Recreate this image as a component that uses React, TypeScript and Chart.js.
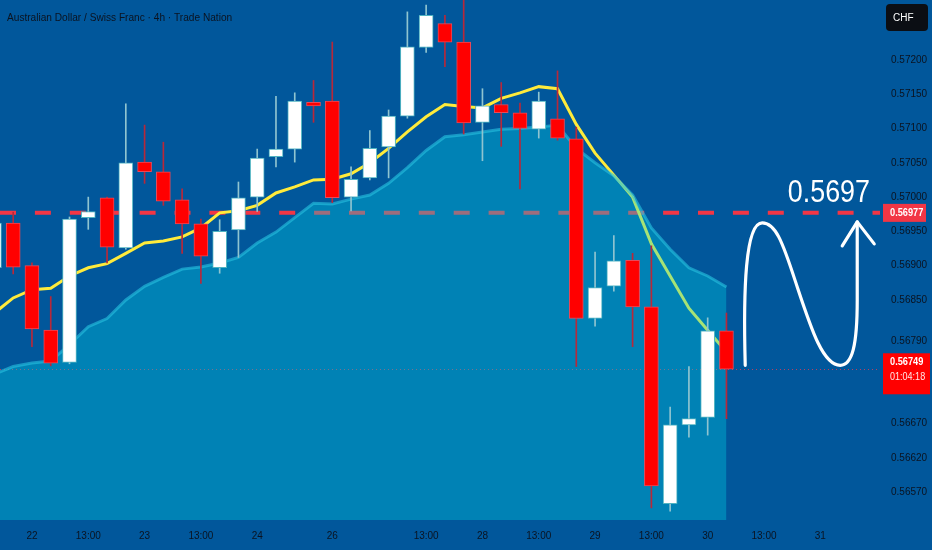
import React, { useEffect, useRef } from 'react';
import { Chart, registerables } from 'chart.js';

Chart.register(...registerables);

// ---- data ----
const candleIndex = [-1, 0, 1, 2, 3, 4, 5, 6, 7, 8, 9, 10, 11, 12, 13, 14, 15, 16, 17, 18, 19, 20, 21, 22, 23, 24, 25, 26, 27, 28, 29, 30, 31, 32, 33, 34, 35, 36, 37, 38];
const opens = [0.56897, 0.56962, 0.569, 0.56806, 0.56759, 0.5697, 0.56999, 0.56926, 0.57051, 0.57037, 0.56996, 0.56961, 0.56897, 0.56952, 0.57, 0.57059, 0.5707, 0.57138, 0.5714, 0.57, 0.57028, 0.57073, 0.57118, 0.57218, 0.57253, 0.57226, 0.57109, 0.57135, 0.57123, 0.57099, 0.57114, 0.57085, 0.56823, 0.5687, 0.56908, 0.5684, 0.56553, 0.56668, 0.56679, 0.56805];
const highs = [0.56968, 0.56978, 0.56904, 0.56855, 0.56971, 0.57, 0.57, 0.57136, 0.57105, 0.5708, 0.57012, 0.56968, 0.56967, 0.57022, 0.5707, 0.57147, 0.57152, 0.5717, 0.57226, 0.57044, 0.57097, 0.57127, 0.5727, 0.5728, 0.57265, 0.57294, 0.57158, 0.57167, 0.57137, 0.57153, 0.57184, 0.57102, 0.5692, 0.56944, 0.56918, 0.56929, 0.56694, 0.56753, 0.56824, 0.56831];
const lows = [0.5689, 0.56888, 0.56782, 0.56754, 0.56757, 0.56953, 0.56904, 0.56924, 0.5702, 0.56988, 0.56918, 0.56874, 0.56889, 0.56912, 0.56979, 0.57044, 0.57051, 0.57109, 0.56992, 0.5698, 0.57025, 0.57028, 0.57115, 0.57211, 0.5719, 0.57092, 0.57053, 0.57074, 0.57012, 0.57086, 0.57083, 0.56753, 0.56812, 0.56863, 0.56782, 0.56547, 0.56542, 0.5665, 0.56653, 0.56677];
const closes = [0.56962, 0.56898, 0.56808, 0.56758, 0.56968, 0.56979, 0.56927, 0.5705, 0.57037, 0.56994, 0.56961, 0.56914, 0.5695, 0.56999, 0.57057, 0.5707, 0.5714, 0.57133, 0.56999, 0.57026, 0.57071, 0.57118, 0.57219, 0.57265, 0.57226, 0.57108, 0.57133, 0.57123, 0.571, 0.5714, 0.57086, 0.56823, 0.56868, 0.56907, 0.5684, 0.56579, 0.56668, 0.56677, 0.56805, 0.56749];
const fastEma = [0.56831, 0.56853, 0.56865, 0.56867, 0.56885, 0.56897, 0.56903, 0.56918, 0.56933, 0.56936, 0.56942, 0.56955, 0.56977, 0.5698, 0.56988, 0.57006, 0.57015, 0.57025, 0.57026, 0.57034, 0.5705, 0.57071, 0.57095, 0.57117, 0.57135, 0.57132, 0.5713, 0.57144, 0.57152, 0.57161, 0.57158, 0.57106, 0.57064, 0.57032, 0.57, 0.56932, 0.56885, 0.56838, 0.56806, 0.56774];
const slowEma = [0.56742, 0.56753, 0.56758, 0.56761, 0.56785, 0.56811, 0.56823, 0.5685, 0.5687, 0.56883, 0.56895, 0.56898, 0.56904, 0.56912, 0.56933, 0.56949, 0.5697, 0.56991, 0.5699, 0.56997, 0.57003, 0.5702, 0.57043, 0.57068, 0.57088, 0.57091, 0.57095, 0.57099, 0.571, 0.57102, 0.57105, 0.57071, 0.5705, 0.57031, 0.57003, 0.56955, 0.56924, 0.56897, 0.56885, 0.56869];
const xTickIndex = [1, 4, 7, 10, 13, 17, 22, 25, 28, 31, 34, 37, 40, 43];
const xTickLabels = ['22', '13:00', '23', '13:00', '24', '26', '13:00', '28', '13:00', '29', '13:00', '30', '13:00', '31'];
const yTickValues = [0.572, 0.5715, 0.571, 0.5705, 0.57, 0.5695, 0.569, 0.5685, 0.5679, 0.5667, 0.5662, 0.5657];
const levelPrice = 0.56977;
const targetText = '0.5697';
const lastPrice = 0.56749;
const countdown = '01:04:18';
const currency = 'CHF';
const title = 'Australian Dollar / Swiss Franc · 4h · Trade Nation';

// ---- styles ----
const BG = '#01579b';
const TEXT = '#0b1320';
const FONT = "'Liberation Sans', Arial, sans-serif";
const X_MIN = -0.703;
const X_MAX = 46.18;
const Y_MIN = 0.565293;
const Y_MAX = 0.572873;

const isUp = (i: number) => closes[i] >= opens[i];

function drawText(ctx: CanvasRenderingContext2D, text: string, x: number, y: number, font: string, color: string, sx: number, align: CanvasTextAlign, baseline: CanvasTextBaseline) {
  ctx.save();
  ctx.font = font;
  ctx.fillStyle = color;
  ctx.textAlign = align;
  ctx.textBaseline = baseline;
  ctx.translate(x, y);
  ctx.scale(sx, 1);
  ctx.fillText(text, 0, 0);
  ctx.restore();
}

export default function App() {
  const ref = useRef<HTMLCanvasElement | null>(null);

  useEffect(() => {
    const canvas = ref.current;
    if (!canvas) return;
    document.body.style.margin = '0';

    const decor = {
      id: 'decor',
      beforeDraw(chart: any) {
        const { ctx, width, height } = chart;
        ctx.save();
        ctx.fillStyle = BG;
        ctx.fillRect(0, 0, width, height);
        ctx.restore();
      },
      beforeDatasetsDraw(chart: any) {
        const { ctx, chartArea } = chart;
        const ys = chart.scales.y;
        ctx.save();
        const ly = ys.getPixelForValue(levelPrice);
        ctx.strokeStyle = '#f23645';
        ctx.lineWidth = 4;
        ctx.setLineDash([16, 18.9]);
        ctx.beginPath();
        ctx.moveTo(chartArea.left, ly);
        ctx.lineTo(chartArea.right, ly);
        ctx.stroke();
        const py = Math.round(ys.getPixelForValue(lastPrice)) + 0.5;
        ctx.strokeStyle = 'rgba(230,60,80,0.8)';
        ctx.lineWidth = 1;
        ctx.setLineDash([1, 3]);
        ctx.beginPath();
        ctx.moveTo(chartArea.left, py);
        ctx.lineTo(chartArea.right, py);
        ctx.stroke();
        ctx.restore();
      },
      afterDatasetsDraw(chart: any) {
        const { ctx, chartArea } = chart;
        const xs = chart.scales.x;
        const ys = chart.scales.y;
        const ly = ys.getPixelForValue(levelPrice);
        const y0 = ys.getPixelForValue(lastPrice) - 4;
        const x0 = xs.getPixelForValue(39);
        const yTop = ly + 10;
        ctx.save();
        ctx.strokeStyle = '#ffffff';
        ctx.lineWidth = 3.2;
        ctx.lineCap = 'round';
        ctx.lineJoin = 'round';
        ctx.beginPath();
        ctx.moveTo(x0, y0);
        ctx.bezierCurveTo(x0 - 2, y0 - 75, x0, yTop, x0 + 17, yTop);
        ctx.bezierCurveTo(x0 + 30, yTop, x0 + 37, yTop + 18, x0 + 50, yTop + 58);
        ctx.bezierCurveTo(x0 + 65, yTop + 103, x0 + 77, y0, x0 + 95, y0);
        ctx.bezierCurveTo(x0 + 107, y0, x0 + 112, y0 - 20, x0 + 112, y0 - 65);
        ctx.lineTo(x0 + 112, yTop - 1);
        ctx.stroke();
        ctx.beginPath();
        ctx.moveTo(x0 + 97, yTop + 23);
        ctx.lineTo(x0 + 112, yTop - 1);
        ctx.lineTo(x0 + 129, yTop + 21);
        ctx.stroke();
        ctx.restore();
        drawText(ctx, targetText, chartArea.right - 10, ly - 11, '32px ' + FONT, '#ffffff', 0.84, 'right', 'alphabetic');
      },
      afterDraw(chart: any) {
        const { ctx, chartArea } = chart;
        const ys = chart.scales.y;
        const ax = chartArea.right;
        drawText(ctx, title, 7, 21, '11.5px ' + FONT, TEXT, 0.88, 'left', 'alphabetic');
        ctx.save();
        ctx.fillStyle = '#0b0e14';
        ctx.beginPath();
        (ctx as any).roundRect(ax + 6, 4, 42, 27, 4);
        ctx.fill();
        ctx.restore();
        drawText(ctx, currency, ax + 13, 18, '10px ' + FONT, '#ffffff', 1, 'left', 'middle');
        const ly = ys.getPixelForValue(levelPrice);
        ctx.save();
        ctx.fillStyle = '#f23645';
        ctx.fillRect(ax + 3, ly - 9, 43, 18);
        ctx.restore();
        drawText(ctx, levelPrice.toFixed(5), ax + 10, ly + 0.5, 'bold 10.5px ' + FONT, '#ffffff', 0.88, 'left', 'middle');
        const py = ys.getPixelForValue(lastPrice);
        ctx.save();
        ctx.fillStyle = '#ff0000';
        ctx.fillRect(ax + 3, py - 16, 47, 41);
        ctx.restore();
        drawText(ctx, lastPrice.toFixed(5), ax + 10, py - 7, 'bold 10.5px ' + FONT, '#ffffff', 0.88, 'left', 'middle');
        drawText(ctx, countdown, ax + 10, py + 8, '10.5px ' + FONT, '#ffe6e6', 0.86, 'left', 'middle');
      },
    };

    const chart = new Chart(canvas, {
      type: 'bar',
      data: {
        datasets: [
          {
            type: 'bar',
            label: 'bodies',
            data: candleIndex.map((x, i) => ({ x, y: [opens[i], closes[i]] })) as any,
            backgroundColor: candleIndex.map((_, i) => (isUp(i) ? '#ffffff' : '#ff0000')),
            borderColor: candleIndex.map((_, i) => (isUp(i) ? '#4fb3c2' : '#e84a5a')),
            borderWidth: 1,
            borderSkipped: false,
            barThickness: 14,
            grouped: false,
            order: 0,
            clip: 0,
          } as any,
          {
            type: 'bar',
            label: 'wicks',
            data: candleIndex.map((x, i) => ({ x, y: [lows[i], highs[i]] })) as any,
            backgroundColor: candleIndex.map((_, i) => (isUp(i) ? '#8fc4d0' : '#b8283a')),
            borderWidth: 0,
            barThickness: 1,
            grouped: false,
            order: 1,
            clip: 0,
          } as any,
          {
            type: 'line',
            label: 'slow',
            data: candleIndex.map((x, i) => ({ x, y: slowEma[i] })),
            borderColor: 'rgba(40,195,225,0.6)',
            borderWidth: 3,
            backgroundColor: 'rgba(0,213,229,0.35)',
            fill: 'start',
            pointRadius: 0,
            tension: 0,
            order: 2,
            clip: 0,
          } as any,
          {
            type: 'line',
            label: 'fast',
            data: candleIndex.map((x, i) => ({ x, y: fastEma[i] })),
            borderColor: '#ffeb3b',
            borderWidth: 3,
            fill: false,
            pointRadius: 0,
            tension: 0,
            order: 3,
            clip: 0,
          } as any,
        ],
      },
      options: {
        responsive: false,
        animation: false,
        events: [],
        layout: { padding: 0 },
        plugins: { legend: { display: false }, tooltip: { enabled: false }, title: { display: false } },
        scales: {
          x: {
            type: 'linear',
            min: X_MIN,
            max: X_MAX,
            offset: false,
            grid: { display: false, drawTicks: false },
            border: { display: false },
            ticks: {
              autoSkip: false,
              maxRotation: 0,
              padding: 10,
              color: TEXT,
              font: { family: FONT, size: 10 },
              callback: (_v: any, idx: number) => xTickLabels[idx],
            },
            afterBuildTicks: (s: any) => {
              s.ticks = xTickIndex.map((v) => ({ value: v }));
            },
            afterFit: (s: any) => {
              s.height = 30;
              s.paddingLeft = 0;
              s.paddingRight = 0;
            },
          },
          y: {
            type: 'linear',
            position: 'right',
            min: Y_MIN,
            max: Y_MAX,
            bounds: 'data',
            beginAtZero: false,
            grid: { display: false, drawTicks: false },
            border: { display: false },
            ticks: {
              autoSkip: false,
              padding: 11,
              color: TEXT,
              font: { family: FONT, size: 10 },
              callback: (v: any) => Number(v).toFixed(5),
            },
            afterBuildTicks: (s: any) => {
              s.ticks = yTickValues.map((v) => ({ value: v }));
            },
            afterFit: (s: any) => {
              s.width = 52;
              s.paddingTop = 0;
              s.paddingBottom = 0;
            },
          },
        },
      } as any,
      plugins: [decor],
    });

    return () => chart.destroy();
  }, []);

  return (
    <div style={{ position: 'fixed', left: 0, top: 0, width: 932, height: 550 }}>
      <canvas ref={ref} width={932} height={550} style={{ width: 932, height: 550, display: 'block' }} />
    </div>
  );
}
